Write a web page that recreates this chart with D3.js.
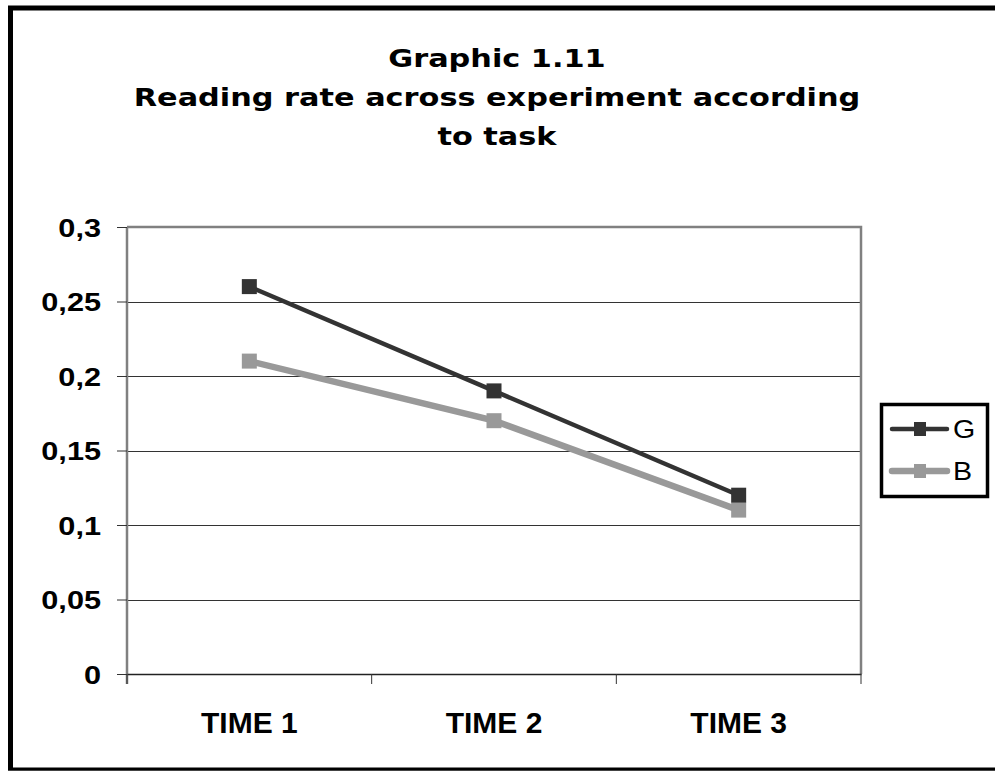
<!DOCTYPE html>
<html>
<head>
<meta charset="utf-8">
<script src="https://cdn.jsdelivr.net/npm/d3@7"></script>
<style>
  html, body { margin: 0; padding: 0; background: #fff; }
  svg { display: block; }
</style>
</head>
<body>
<div id="chart"></div>
<script>
const titleLines = ['Graphic 1.11', 'Reading rate across experiment according', 'to task'];
const categories = ['TIME 1', 'TIME 2', 'TIME 3'];
const seriesNames = ['G', 'B'];
const seriesG = [0.26, 0.19, 0.12];
const seriesB = [0.21, 0.17, 0.11];
const yTicks = [0, 0.05, 0.1, 0.15, 0.2, 0.25, 0.3];

const W = 995, H = 771;
const plot = { left: 127, right: 861, top: 227, bottom: 674 };
const titleStretch = 1.19;   // the source text is stretched sideways
const labelStretch = 1.18;

const svg = d3.select('#chart').append('svg')
  .attr('width', W).attr('height', H);

// outer frame (runs off the right edge like the source)
svg.append('rect')
  .attr('x', 10.5).attr('y', 8).attr('width', 1000).attr('height', 762)
  .attr('fill', 'none').attr('stroke', '#000').attr('stroke-width', 5);
svg.append('line')
  .attr('x1', 8).attr('x2', W).attr('y1', 770.5).attr('y2', 770.5)
  .attr('stroke', '#444').attr('stroke-width', 1);

// title
svg.append('g')
  .attr('transform', `translate(497,0) scale(${titleStretch},1)`)
  .selectAll('text').data(titleLines).join('text')
  .attr('x', 0).attr('y', (d, i) => 67 + i * 39)
  .attr('text-anchor', 'middle')
  .attr('font-family', 'DejaVu Sans, Verdana, sans-serif')
  .attr('font-weight', 'bold').attr('font-size', 25.5)
  .attr('fill', '#000')
  .text(d => d);

const x = d3.scaleBand().domain(categories).range([plot.left, plot.right]);
const y = d3.scaleLinear().domain([0, 0.3]).range([plot.bottom, plot.top]);

// gridlines
svg.append('g').selectAll('line').data(yTicks.filter(t => t > 0 && t < 0.3)).join('line')
  .attr('x1', plot.left).attr('x2', plot.right)
  .attr('y1', d => Math.round(y(d)) + 0.5).attr('y2', d => Math.round(y(d)) + 0.5)
  .attr('stroke', '#333').attr('stroke-width', 1);

// plot frame top/right
svg.append('path')
  .attr('d', `M${plot.left},${y(0.3)}H${plot.right}V${plot.bottom}`)
  .attr('fill', 'none').attr('stroke', '#808080').attr('stroke-width', 2.5);

// y axis
const yAxis = svg.append('g')
  .attr('transform', `translate(${plot.left},0)`)
  .call(d3.axisLeft(y).tickValues(yTicks).tickSize(10)
    .tickFormat(d => String(d).replace('.', ',')));
yAxis.select('.domain').attr('stroke', '#808080').attr('stroke-width', 2.5)
  .attr('d', `M0,${y(0.3)}V${plot.bottom + 10}`);
yAxis.selectAll('.tick line').attr('stroke', '#333').attr('stroke-width', 1);
yAxis.selectAll('text')
  .attr('x', -26 / labelStretch)
  .attr('transform', `scale(${labelStretch},1)`)
  .attr('font-family', 'Liberation Sans, Arial, sans-serif')
  .attr('font-weight', 'bold').attr('font-size', 26).attr('fill', '#000')
  .attr('dy', '0.36em');

// x axis
const xAxis = svg.append('g')
  .attr('transform', `translate(0,${plot.bottom})`)
  .call(d3.axisBottom(x).tickSize(0).tickPadding(0));
xAxis.select('.domain').attr('stroke', '#222').attr('stroke-width', 1.5);
xAxis.selectAll('text')
  .attr('y', 59).attr('dy', 0)
  .attr('font-family', 'Liberation Sans, Arial, sans-serif')
  .attr('font-weight', 'bold').attr('font-size', 30).attr('fill', '#000');
xAxis.append('g').selectAll('line')
  .data(categories.map(c => x(c)).concat([plot.right]))
  .join('line')
  .attr('x1', d => d).attr('x2', d => d).attr('y1', 0).attr('y2', 10)
  .attr('stroke', '#333').attr('stroke-width', 1);

// series
const series = [
  { name: seriesNames[0], values: seriesG, color: '#333333', width: 4.5 },
  { name: seriesNames[1], values: seriesB, color: '#999999', width: 6.5 }
];
const line = d3.line()
  .x((d, i) => x(categories[i]) + x.bandwidth() / 2)
  .y(d => y(d));
const ms = 15;

// draw B first so G sits on top
series.slice().reverse().forEach(s => {
  svg.append('path').datum(s.values)
    .attr('d', line).attr('fill', 'none')
    .attr('stroke', s.color).attr('stroke-width', s.width);
  svg.append('g').selectAll('rect').data(s.values).join('rect')
    .attr('x', (d, i) => x(categories[i]) + x.bandwidth() / 2 - ms / 2)
    .attr('y', d => y(d) - ms / 2)
    .attr('width', ms).attr('height', ms)
    .attr('fill', s.color);
});

// legend
const lg = svg.append('g');
lg.append('rect')
  .attr('x', 881.5).attr('y', 404.5).attr('width', 106).attr('height', 92)
  .attr('fill', '#fff').attr('stroke', '#000').attr('stroke-width', 3.5);
series.forEach((s, i) => {
  const ly = 429 + i * 42;
  lg.append('line')
    .attr('x1', 892).attr('x2', 947).attr('y1', ly).attr('y2', ly)
    .attr('stroke', s.color).attr('stroke-width', s.width).attr('stroke-linecap', 'round');
  lg.append('rect')
    .attr('x', 914).attr('y', ly - 7).attr('width', 12).attr('height', 14)
    .attr('fill', s.color);
  lg.append('text')
    .attr('x', 953 / 1.1).attr('y', ly).attr('dy', '0.36em')
    .attr('transform', 'scale(1.1,1)')
    .attr('font-family', 'Liberation Sans, Arial, sans-serif')
    .attr('font-size', 26).attr('fill', '#000')
    .text(s.name);
});
</script>
</body>
</html>
